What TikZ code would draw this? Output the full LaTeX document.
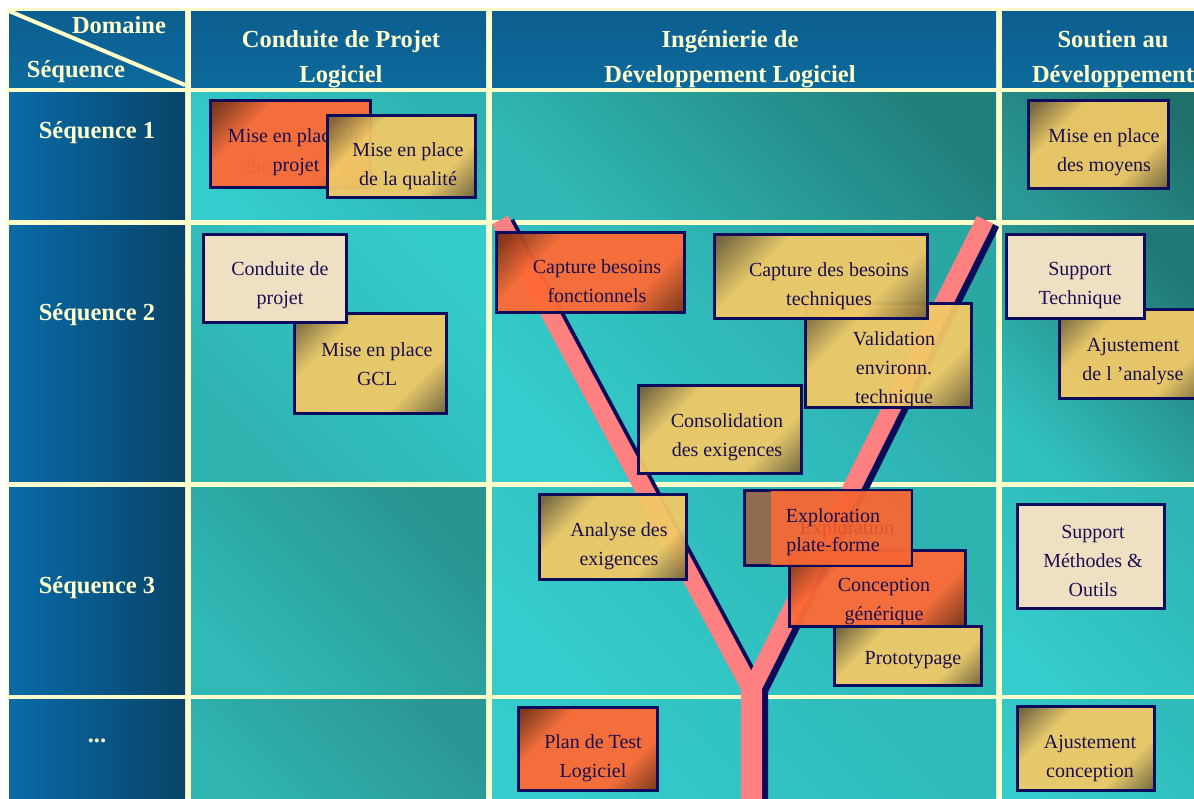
\documentclass[tikz,border=0pt]{standalone}
\usepackage{fontspec}
\setmainfont{Liberation Serif}
\definecolor{cream}{HTML}{FFFFCC}
\definecolor{hdtop}{HTML}{0C5E90}
\definecolor{hdbot}{HTML}{0D6A9C}
\definecolor{sqleft}{HTML}{0A6BA8}
\definecolor{sqmid}{HTML}{0964A2}
\definecolor{sqright}{HTML}{074468}
\definecolor{ypink}{HTML}{FF8080}
\definecolor{ynavy}{HTML}{0A0A5A}
\definecolor{boxline}{HTML}{0C0C5C}
\definecolor{txtnavy}{HTML}{1A1050}
\definecolor{gold}{HTML}{F2C966}
\definecolor{gdark}{HTML}{7A643A}
\definecolor{orng}{HTML}{FF6A35}
\definecolor{odark}{HTML}{7E3214}
\definecolor{parch}{HTML}{EFE0C4}
\definecolor{ghost}{HTML}{B03A20}
\pgfdeclarehorizontalshading{goldsh}{100bp}{color(0bp)=(gdark); color(17bp)=(gdark); color(33bp)=(gold); color(68bp)=(gold); color(85bp)=(gdark); color(100bp)=(gdark)}
\pgfdeclarehorizontalshading{orngsh}{100bp}{color(0bp)=(odark); color(17bp)=(odark); color(33bp)=(orng); color(68bp)=(orng); color(85bp)=(odark); color(100bp)=(odark)}
\tikzset{
  tealcell/.code 2 args={\definecolor{tcA}{HTML}{#1}\definecolor{tcB}{HTML}{#2}\pgfkeysalso{/tikz/top color=tcA, /tikz/bottom color=tcB, /tikz/shading angle=-45}},
  hdtext/.style={text=cream, font=\bfseries\fontsize{24.5}{35}\selectfont, align=center, inner sep=0pt},
  boxbase/.style={draw=boxline, line width=3pt, inner sep=0pt},
  goldbox/.style={boxbase, shading=goldsh, shading angle=-45, fill opacity=0.94, draw opacity=1},
  orngbox/.style={boxbase, shading=orngsh, shading angle=-45, fill opacity=0.95, draw opacity=1},
  parchbox/.style={boxbase, fill=parch},
  boxtext/.style={text=txtnavy, font=\fontsize{20}{29}\selectfont, align=center, inner sep=0pt},
  ghosttext/.style={boxtext, text=ghost, text opacity=0.35},
}
\begin{document}
\begin{tikzpicture}[x=1pt,y=-1pt]
\useasboundingbox (0,0) rectangle (1194,798);
\clip (0,0) rectangle (1194,798);
\fill[white] (0,0) rectangle (1194,798);
\fill[cream] (7,8) rectangle (1194,798);
% header cells
\foreach \a/\b in {9/185,191/486,492/996,1002/1200}
  \shade[top color=hdtop, bottom color=hdbot] (\a,11) rectangle (\b,87);
% first column cells
\foreach \t/\u in {92/219,225/481,487/694,699/800}
  \shade[left color=sqleft, middle color=sqmid, right color=sqright] (9,\t) rectangle (185,\u);
% body cells
\shade[tealcell={2DB3B1}{34CCCC}] (191,92) rectangle (486,219);
\shade[tealcell={21807C}{2FB8B5}] (492,92) rectangle (996,219);
\shade[tealcell={1E706C}{2A9894}] (1002,92) rectangle (1200,219);
\shade[tealcell={34CBCB}{2EB2B0}] (191,225) rectangle (486,481);
\shade[tealcell={2AA6A3}{34CCCC}] (492,225) rectangle (996,481);
\shade[tealcell={207874}{31C0BE}] (1002,225) rectangle (1200,481);
\shade[tealcell={28948F}{30B9B7}] (191,487) rectangle (486,694);
\shade[tealcell={2DB3B0}{34CCCC}] (492,487) rectangle (996,694);
\shade[tealcell={2EB6B4}{34CCCC}] (1002,487) rectangle (1200,694);
\shade[tealcell={2A9694}{30B4B2}] (191,699) rectangle (486,800);
\shade[tealcell={2FBAB8}{34CCCC}] (492,699) rectangle (996,800);
\shade[tealcell={2FBCBA}{34CCCC}] (1002,699) rectangle (1200,800);
% header corner
\coordinate (diagA) at (9,11);
\coordinate (diagB) at (185,85);
\draw[cream, line width=4pt] (diagA) -- (diagB);
\node[hdtext] (hdom) at (119,25) {Domaine};
\node[hdtext] (hseq) at (76,72) {Séquence};
\node[hdtext] (hc1) at (341,59) {Conduite de Projet\\Logiciel};
\node[hdtext] (hc2) at (730,59) {Ingénierie de\\Développement Logiciel};
\node[hdtext] (hc3) at (1113,59) {Soutien au\\Développement};
\node[hdtext] (s1) at (97,133) {Séquence 1};
\node[hdtext] (s2) at (97,315) {Séquence 2};
\node[hdtext] (s3) at (97,588) {Séquence 3};
\node[hdtext] (s4) at (97,741) {...};
% the Y
\begin{scope}[transform canvas={shift={(6,3)}}]
\fill[ynavy] (492.1,224.2) -- (507.9,215.8) -- (751.2,670.4) -- (976.9,216.0) -- (993.1,224.0) -- (762,689.2) -- (762,810) -- (741,810) -- (741,689.4) -- cycle;
\end{scope}
\fill[ypink] (492.1,224.2) -- (507.9,215.8) -- (751.2,670.4) -- (976.9,216.0) -- (993.1,224.0) -- (762,689.2) -- (762,810) -- (741,810) -- (741,689.4) -- cycle;
% boxes, column 1
\node[orngbox, minimum width=160pt, minimum height=87pt] (mpp) at (290.5,144) {};
\node[boxtext] (mppt) at (296,152) {Mise en place du\\projet};
\node[ghosttext, text opacity=0.15] (mppg) at (256,167) {du};
\node[goldbox, minimum width=148pt, minimum height=82pt] (mpq) at (401.5,156.5) {};
\node[boxtext] (mpqt) at (408,166) {Mise en place\\de la qualité};
\node[goldbox, minimum width=152pt, minimum height=100pt] (gcl) at (370.5,363.5) {};
\node[boxtext] (gclt) at (377,364) {Mise en place\\GCL};
\node[parchbox, minimum width=143pt, minimum height=88pt] (cdp) at (275,278.5) {};
\node[boxtext] (cdpt) at (280,285) {Conduite de\\projet};
% column 2
\node[orngbox, minimum width=188pt, minimum height=80pt] (cbf) at (590.5,272.5) {};
\node[boxtext] (cbft) at (597,281) {Capture besoins\\fonctionnels};
\node[goldbox, minimum width=166pt, minimum height=104pt] (vet) at (888.5,355.5) {};
\node[boxtext] (vett) at (894,370) {Validation\\environn.\\technique};
\node[goldbox, minimum width=213pt, minimum height=84pt] (cbt) at (821,276.5) {};
\node[boxtext] (cbtt) at (829,286) {Capture des besoins\\techniques};
\node[goldbox, minimum width=163pt, minimum height=88pt] (cde) at (720,429.5) {};
\node[boxtext] (cdet) at (727,437) {Consolidation\\des exigences};
\node[goldbox, minimum width=147pt, minimum height=85pt] (ade) at (613,537) {};
\node[boxtext] (adet) at (619,546) {Analyse des\\exigences};
\node[goldbox, minimum width=147pt, minimum height=59pt] (proto) at (908,656) {};
\node[boxtext] (protot) at (913,660) {Prototypage};
\node[orngbox, minimum width=176pt, minimum height=76pt] (cg) at (877.5,588.5) {};
\node[boxtext] (cgt) at (884,602) {Conception\\générique};
\node[boxbase, fill=odark!55!orng, fill opacity=0.7, draw opacity=1, minimum width=167pt, minimum height=75pt] (epf) at (828,528) {};
\fill[orng, opacity=0.85] (771,491) rectangle (911,565);
\node[ghosttext] (epfg) at (847,530) {Exploration};
\node[boxtext] (epft) at (833,532) {Exploration\\plate-forme};
\node[orngbox, minimum width=139pt, minimum height=83pt] (ptl) at (588,749) {};
\node[boxtext] (ptlt) at (593,758) {Plan de Test\\Logiciel};
% column 3
\node[goldbox, minimum width=140pt, minimum height=88pt] (mpm) at (1098.5,144.5) {};
\node[boxtext] (mpmt) at (1104,152) {Mise en place\\des moyens};
\node[goldbox, minimum width=149pt, minimum height=89pt] (aja) at (1134,354) {};
\node[boxtext] (ajat) at (1133,362) {Ajustement\\de l ’analyse};
\node[parchbox, minimum width=138pt, minimum height=84pt] (st) at (1075.5,276.5) {};
\node[boxtext] (stt) at (1080,286) {Support\\Technique};
\node[parchbox, minimum width=147pt, minimum height=104pt] (smo) at (1091,556.5) {};
\node[boxtext] (smot) at (1093,561) {Support\\Méthodes \&\\Outils};
\node[goldbox, minimum width=137pt, minimum height=84pt] (ajc) at (1086,748.5) {};
\node[boxtext] (ajct) at (1090,758) {Ajustement\\conception};
\end{tikzpicture}
\end{document}
